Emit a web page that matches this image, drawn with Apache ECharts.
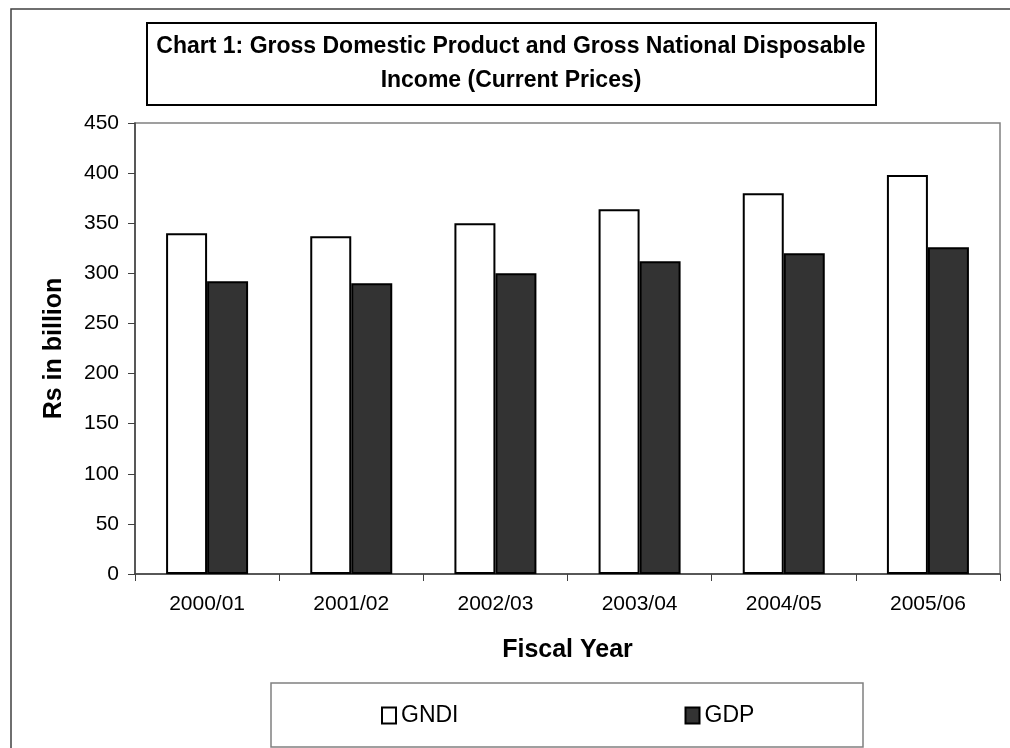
<!DOCTYPE html>
<html>
<head>
<meta charset="utf-8">
<script src="https://cdn.jsdelivr.net/npm/echarts@6/dist/echarts.min.js"></script>
<style>
  html, body { margin: 0; padding: 0; background: #fff; }
  #chart { width: 1010px; height: 748px; }
</style>
</head>
<body>
<div id="chart"></div>
<script>
// fiscal years on the x axis
var years = ['2000/01', '2001/02', '2002/03', '2003/04', '2004/05', '2005/06'];
// Rs in billion
var gndi = [340, 337, 350, 364, 380, 398];
var gdp = [292, 290, 300, 312, 320, 326];

var font = "'Liberation Sans', Arial, sans-serif";

var myChart = echarts.init(document.getElementById('chart'));
var option = {
  backgroundColor: '#fff',
  animation: false,
  textStyle: { fontFamily: font },
  graphic: [
    // outer frame (right and bottom run off the picture)
    { type: 'rect', shape: { x: 11, y: 9, width: 1030, height: 780 }, style: { fill: null, stroke: '#404040', lineWidth: 1.5 } },
    // title box
    { type: 'rect', shape: { x: 147, y: 23, width: 729, height: 82 }, style: { fill: '#fff', stroke: '#000', lineWidth: 2 } },
    {
      type: 'text', x: 511, y: 64,
      style: {
        text: 'Chart 1: Gross Domestic Product and Gross National Disposable\nIncome (Current Prices)',
        font: 'bold 23px ' + font, fill: '#000',
        align: 'center', verticalAlign: 'middle', lineHeight: 34
      }
    },
    // legend box
    { type: 'rect', shape: { x: 271, y: 683, width: 592, height: 64 }, style: { fill: '#fff', stroke: '#808080', lineWidth: 1.5 }, z: -1 }
  ],
  legend: {
    left: 381, top: 704, padding: 0,
    icon: 'rect', itemWidth: 14, itemHeight: 16, itemGap: 226,
    textStyle: { fontSize: 23, color: '#000', fontFamily: font },
    data: ['GNDI', 'GDP']
  },
  grid: {
    left: 135, right: 10, top: 123, bottom: 174,
    show: true, borderColor: '#808080', borderWidth: 1.5, backgroundColor: '#fff'
  },
  xAxis: {
    type: 'category',
    data: years,
    name: 'Fiscal Year',
    nameLocation: 'middle',
    nameGap: 64,
    nameTextStyle: { fontSize: 25, fontWeight: 'bold', color: '#000', fontFamily: font },
    axisLine: { lineStyle: { color: '#404040', width: 1.5 } },
    axisTick: { show: true, length: 7, lineStyle: { color: '#404040' } },
    axisLabel: { fontSize: 21, color: '#000', margin: 20, fontFamily: font }
  },
  yAxis: {
    type: 'value',
    min: 0, max: 450, interval: 50,
    name: 'Rs in billion',
    nameLocation: 'middle',
    nameGap: 68,
    nameTextStyle: { fontSize: 25, fontWeight: 'bold', color: '#000', fontFamily: font },
    axisLine: { show: true, lineStyle: { color: '#404040', width: 1.5 } },
    axisTick: { show: true, length: 7, lineStyle: { color: '#404040' } },
    axisLabel: { fontSize: 21, color: '#000', margin: 16, fontFamily: font },
    splitLine: { show: false }
  },
  series: [
    {
      name: 'GNDI', type: 'bar', data: gndi,
      barWidth: 41, barGap: '0%',
      itemStyle: { color: '#fff', borderColor: '#000', borderWidth: 2 }
    },
    {
      name: 'GDP', type: 'bar', data: gdp,
      barWidth: 41,
      itemStyle: { color: '#333333', borderColor: '#000', borderWidth: 2 }
    }
  ]
};
myChart.setOption(option);
</script>
</body>
</html>
